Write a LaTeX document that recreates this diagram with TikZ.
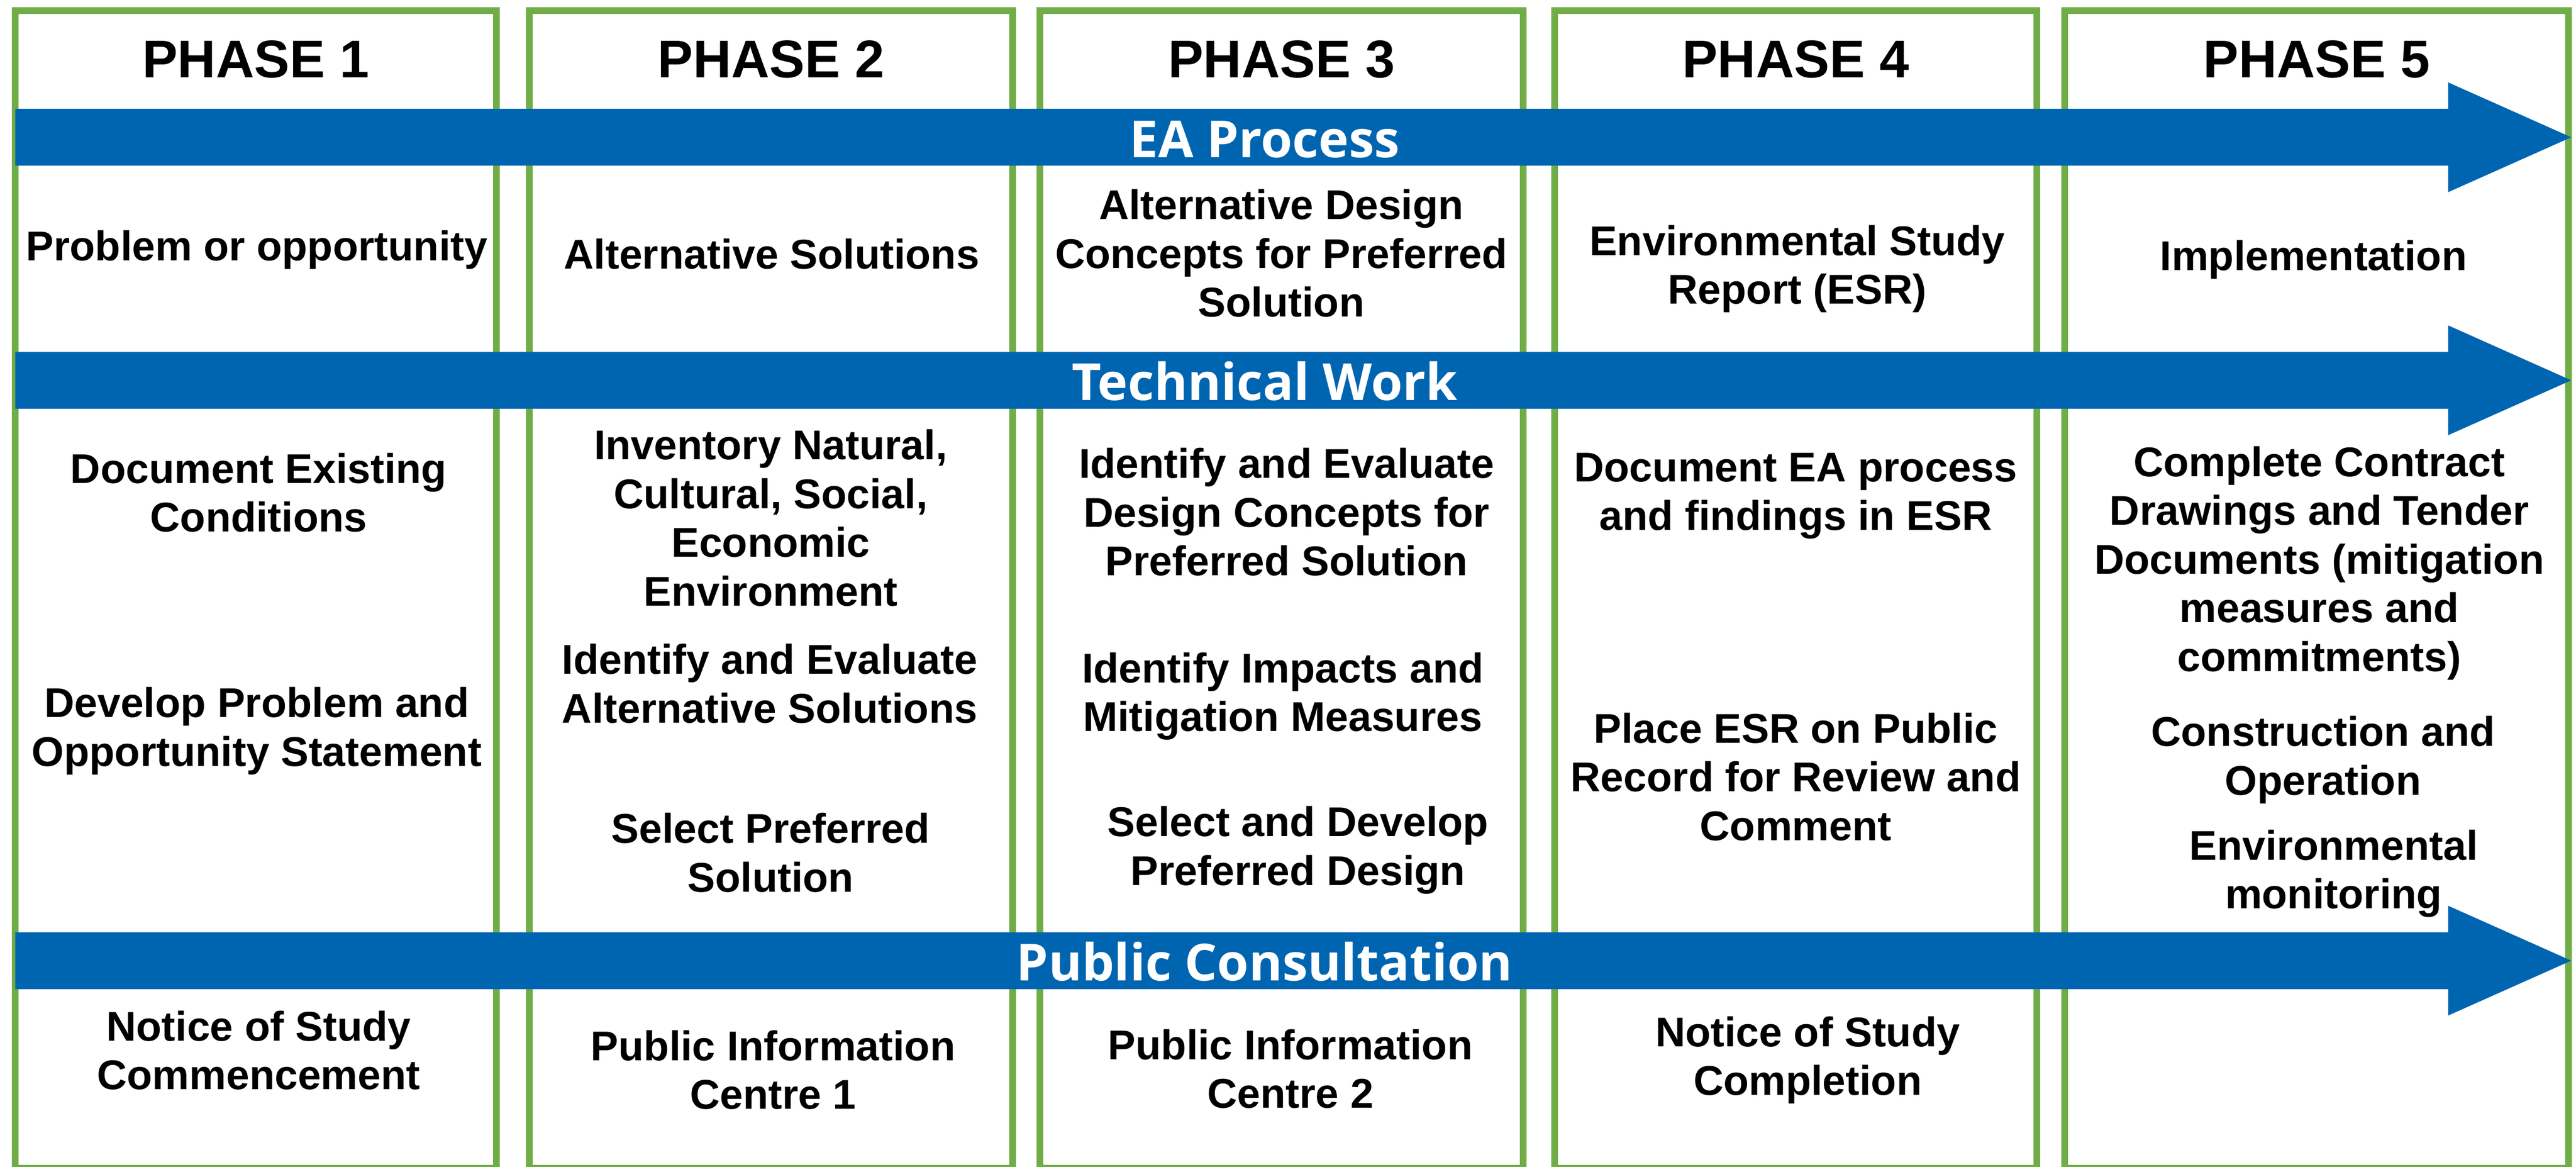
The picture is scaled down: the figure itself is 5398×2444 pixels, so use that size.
\documentclass[tikz,border=0pt]{standalone}
\usepackage{fontspec}
\setmainfont{Liberation Sans}
\newfontfamily\bandfont{Open Sans}
\usetikzlibrary{positioning}
\definecolor{phasegreen}{RGB}{112,173,71}
\definecolor{bandblue}{RGB}{0,101,177}

\begin{document}
\begin{tikzpicture}[x=0.01cm, y=-0.01cm,
      phase/.style={rectangle, draw=phasegreen, line width=0.14cm, minimum height=24.23cm, inner sep=0pt},
      head/.style={anchor=north, inner sep=0pt, font=\fontsize{31.6}{36}\selectfont\bfseries},
      task/.style={anchor=north, inner sep=0pt, align=center, font=\fontsize{24.75}{29.02}\selectfont\bfseries},
      bandtext/.style={anchor=base, inner sep=0pt, text=white, font=\bandfont\fontsize{30.4}{34}\selectfont\bfseries}]

      \useasboundingbox (0,0) rectangle (5398,2444);
      \fill[white] (0,0) rectangle (5398,2444);

      % Phase columns
      \foreach \n/\x/\w in {1/536/10.08, 2/1616/10.12, 3/2685.5/10.13, 4/3763/10.10, 5/4854.5/10.55} {
        \node[phase, minimum width=\w cm] (col\n) at (\x,1234.5) {};
        \node[head] (phase\n) at (\x,84) {PHASE \n};
      }

      % Arrows
      \foreach \y/\txt [count=\i] in {287.5/EA Process, 796.5/Technical Work, 2012/Public Consultation} {
        \fill[bandblue] (32,\y-59.5) -- (5130,\y-59.5) -- (5130,\y-115) -- (5388,\y)
          -- (5130,\y+115) -- (5130,\y+59.5) -- (32,\y+59.5) -- cycle;
        \node[bandtext] (band\i) at (2650,\y+42) {\txt};
      }

      % EA process
      \node[task] (ea1) at (538,482) {Problem or opportunity};
      \node[task] (ea2) at (1617,499) {Alternative Solutions};
      \node[task] (ea3) at (2685,396) {Alternative Design\\Concepts for Preferred\\Solution};
      \node[task] (ea4) at (3766,471) {Environmental Study\\Report (ESR)};
      \node[task] (ea5) at (4848,502) {Implementation};

      % Technical work
      \node[task] (tw1a) at (542,948) {Document Existing\\Conditions};
      \node[task] (tw1b) at (538,1439) {Develop Problem and\\Opportunity Statement};
      \node[task] (tw2a) at (1615,899) {Inventory Natural,\\Cultural, Social,\\Economic\\Environment};
      \node[task] (tw2b) at (1613,1348) {Identify and Evaluate\\Alternative Solutions};
      \node[task] (tw2c) at (1615,1702) {Select Preferred\\Solution};
      \node[task] (tw3a) at (2696,938) {Identify and Evaluate\\Design Concepts for\\Preferred Solution};
      \node[task] (tw3b) at (2688,1366) {Identify Impacts and\\Mitigation Measures};
      \node[task] (tw3c) at (2720,1688) {Select and Develop\\Preferred Design};
      \node[task] (tw4a) at (3763,948) {Document EA process\\and findings in ESR};
      \node[task] (tw4b) at (3763,1492) {Place ESR on Public\\Record for Review and\\Comment};
      \node[task] (tw5a) at (4860,934) {Complete Contract\\Drawings and Tender\\Documents (mitigation\\measures and\\commitments)};
      \node[task] (tw5b) at (4868,1499) {Construction and\\Operation};
      \node[task] (tw5c) at (4890,1737) {Environmental\\monitoring};

      % Public consultation
      \node[task] (pc1) at (542,2116) {Notice of Study\\Commencement};
      \node[task] (pc2) at (1620,2157) {Public Information\\Centre 1};
      \node[task] (pc3) at (2704,2155) {Public Information\\Centre 2};
      \node[task] (pc4) at (3788,2128) {Notice of Study\\Completion};
    \end{tikzpicture}
\end{document}
